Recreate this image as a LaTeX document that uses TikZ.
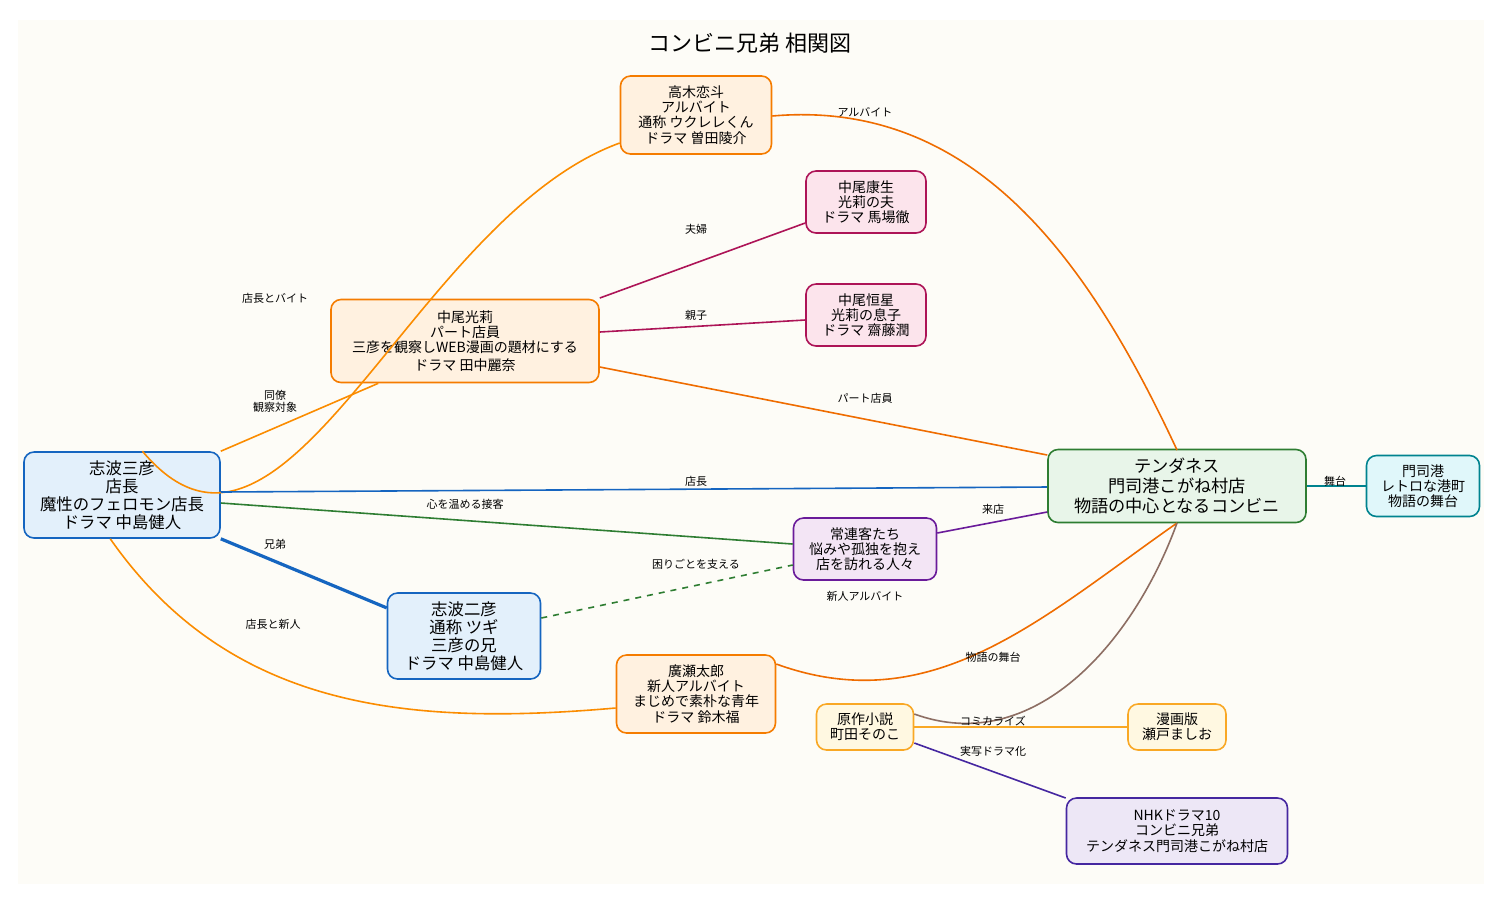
\documentclass[tikz,border=0pt]{standalone}
\usepackage{fontspec}
\setmainfont{Noto Sans CJK JP}
\begin{document}
\begin{tikzpicture}[x=0.5pt,y=-0.5pt,
 box/.style={draw,rounded corners=5pt,line width=0.8pt,align=center,inner sep=1pt,font=\fontsize{7}{7.6}\selectfont},
 blue/.style={box,fill={rgb,255:red,227;green,240;blue,251},draw={rgb,255:red,21;green,101;blue,192}},
 orng/.style={box,fill={rgb,255:red,255;green,241;blue,224},draw={rgb,255:red,245;green,124;blue,0}},
 pink/.style={box,fill={rgb,255:red,252;green,228;blue,236},draw={rgb,255:red,173;green,20;blue,87}},
 grn/.style={box,fill={rgb,255:red,232;green,245;blue,233},draw={rgb,255:red,46;green,125;blue,50}},
 cyan/.style={box,fill={rgb,255:red,224;green,247;blue,250},draw={rgb,255:red,0;green,131;blue,143}},
 purp/.style={box,fill={rgb,255:red,243;green,229;blue,245},draw={rgb,255:red,106;green,27;blue,154}},
 yell/.style={box,fill={rgb,255:red,255;green,248;blue,225},draw={rgb,255:red,249;green,168;blue,37}},
 indi/.style={box,fill={rgb,255:red,237;green,231;blue,246},draw={rgb,255:red,69;green,39;blue,160}},
 lab/.style={font=\fontsize{5.5}{6}\selectfont,align=center,inner sep=0pt},
 e/.style={line width=0.8pt}]
\useasboundingbox (0,0) rectangle (1504,902);
\fill[white] (0,0) rectangle (1504,902);
\fill[fill={rgb,255:red,253;green,252;blue,247}] (18,20) rectangle (1484,884);
\node[font=\fontsize{11}{12}\selectfont] (title) at (750,43) {コンビニ兄弟\ 相関図};
\node[blue,minimum width=98pt,minimum height=43pt,font=\fontsize{8.2}{9}\selectfont] (san) at (122,495) {志波三彦\\店長\\魔性のフェロモン店長\\ドラマ\ 中島健人};
\node[blue,minimum width=76.5pt,minimum height=43pt,font=\fontsize{8.2}{9}\selectfont] (ni) at (464,636) {志波二彦\\通称\ ツギ\\三彦の兄\\ドラマ\ 中島健人};
\node[orng,minimum width=75.5pt,minimum height=39pt] (tak) at (696,115) {高木恋斗\\アルバイト\\通称\ ウクレレくん\\ドラマ\ 曽田陵介};
\node[orng,minimum width=134pt,minimum height=41.5pt] (mit) at (465,341) {中尾光莉\\パート店員\\三彦を観察しWEB漫画の題材にする\\[1pt]ドラマ\ 田中麗奈};
\node[pink,minimum width=60pt,minimum height=31pt] (yas) at (866,202) {中尾康生\\光莉の夫\\ドラマ\ 馬場徹};
\node[pink,minimum width=60pt,minimum height=31pt] (kou) at (866,315) {中尾恒星\\光莉の息子\\ドラマ\ 齋藤潤};
\node[grn,minimum width=129pt,minimum height=36.5pt,font=\fontsize{8.6}{10}\selectfont] (ten) at (1177,486) {テンダネス\\門司港こがね村店\\物語の中心となるコンビニ};
\node[cyan,minimum width=56.5pt,minimum height=30.5pt] (moj) at (1423,486) {門司港\\レトロな港町\\物語の舞台};
\node[purp,minimum width=71.5pt,minimum height=31pt] (reg) at (865,549) {常連客たち\\悩みや孤独を抱え\\店を訪れる人々};
\node[orng,minimum width=79.5pt,minimum height=39pt] (hir) at (696,694) {廣瀬太郎\\新人アルバイト\\まじめで素朴な青年\\ドラマ\ 鈴木福};
\node[yell,minimum width=48.5pt,minimum height=23pt] (nov) at (865,727) {原作小説\\町田そのこ};
\node[yell,minimum width=49pt,minimum height=23pt] (man) at (1177,727) {漫画版\\瀬戸ましお};
\node[indi,minimum width=110.5pt,minimum height=33pt] (nhk) at (1177,831) {NHKドラマ10\\コンビニ兄弟\\テンダネス門司港こがね村店};
% edges
\draw[e,draw={rgb,255:red,251;green,140;blue,0}] (san.65) to[out=-50,in=200] (tak.west|-0,143);
\draw[e,draw={rgb,255:red,251;green,140;blue,0}] (san.north east) -- (mit.206);
\draw[e,draw={rgb,255:red,21;green,101;blue,192}] (san.east|-0,492) -- (ten.west|-0,487);
\draw[e,draw={rgb,255:red,46;green,125;blue,50}] (san.east|-0,503) -- (reg.west|-0,544);
\draw[line width=1.6pt,draw={rgb,255:red,21;green,101;blue,192}] (san.south east) -- (ni.160);
\draw[e,draw={rgb,255:red,251;green,140;blue,0}] (san.-105) to[out=-55,in=185] (hir.west|-0,708);
\draw[e,dashed,draw={rgb,255:red,46;green,125;blue,50}] (ni.east|-0,618) -- (reg.west|-0,565);
\draw[e,draw={rgb,255:red,239;green,108;blue,0}] (tak.east|-0,116) to[out=5,in=115] (ten.north|-0,450);
\draw[e,draw={rgb,255:red,173;green,20;blue,87}] (mit.north east|-0,298) -- (yas.west|-0,223);
\draw[e,draw={rgb,255:red,173;green,20;blue,87}] (mit.east|-0,332) -- (kou.west|-0,320);
\draw[e,draw={rgb,255:red,239;green,108;blue,0}] (mit.east|-0,367) -- (ten.north west|-0,455);
\draw[e,draw={rgb,255:red,106;green,27;blue,154}] (reg.east|-0,533) -- (ten.west|-0,512);
\draw[e,draw={rgb,255:red,239;green,108;blue,0}] (hir.east|-0,664) to[out=-20,in=215] (ten.south|-0,523);
\draw[e,draw={rgb,255:red,141;green,110;blue,99}] (nov.east|-0,714) to[out=-20,in=-110] (ten.south|-0,523);
\draw[e,draw={rgb,255:red,249;green,168;blue,37}] (nov) -- (man);
\draw[e,draw={rgb,255:red,69;green,39;blue,160}] (nov.east|-0,743) -- (nhk.north west|-0,798);
\draw[e,draw={rgb,255:red,0;green,131;blue,143}] (ten) -- (moj);
% labels
\node[lab] (l1) at (275,298) {店長とバイト};
\node[lab] (l2) at (275,401) {同僚\\観察対象};
\node[lab] (l3) at (696,481) {店長};
\node[lab] (l4) at (465,504) {心を温める接客};
\node[lab] (l5) at (275,544) {兄弟};
\node[lab] (l6) at (273,624) {店長と新人};
\node[lab] (l7) at (696,564) {困りごとを支える};
\node[lab] (l8) at (865,112) {アルバイト};
\node[lab] (l9) at (696,229) {夫婦};
\node[lab] (l10) at (696,315) {親子};
\node[lab] (l11) at (865,398) {パート店員};
\node[lab] (l12) at (993,509) {来店};
\node[lab] (l13) at (865,596) {新人アルバイト};
\node[lab] (l14) at (993,657) {物語の舞台};
\node[lab] (l15) at (993,721) {コミカライズ};
\node[lab] (l16) at (993,751) {実写ドラマ化};
\node[lab] (l17) at (1335,481) {舞台};
\end{tikzpicture}
\end{document}
